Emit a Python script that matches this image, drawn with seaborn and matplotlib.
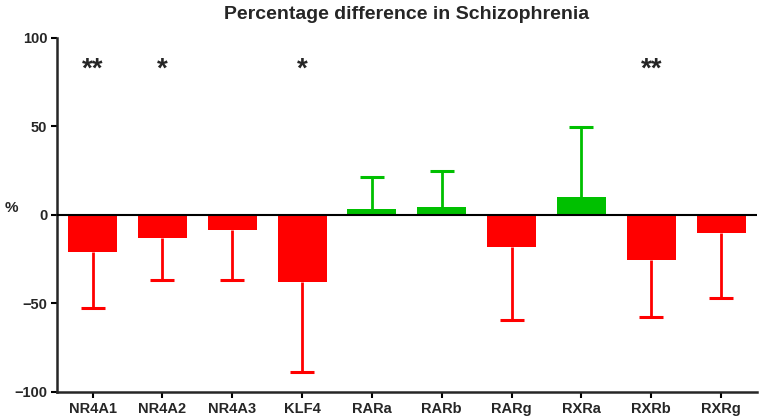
import matplotlib
matplotlib.use("Agg")
import matplotlib.pyplot as plt
import seaborn as sns
import pandas as pd
import numpy as np

genes = ["NR4A1", "NR4A2", "NR4A3", "KLF4", "RARa", "RARb", "RARg", "RXRa", "RXRb", "RXRg"]
values = [-21.0, -12.8, -8.3, -37.7, 3.2, 4.7, -18.3, 10.3, -25.6, -10.2]
errors = [31.4, 24.1, 28.6, 50.8, 18.4, 20.3, 41.0, 39.4, 32.2, 36.5]
stars = ["**", "*", "", "*", "", "", "", "", "**", ""]
yticks = [-100, -50, 0, 50, 100]

RED = "#FF0000"
GREEN = "#00C000"

sns.set_theme(style="ticks")
plt.rcParams["font.family"] = ["Liberation Sans", "DejaVu Sans"]

df = pd.DataFrame({"gene": genes, "value": values,
                   "dir": ["up" if v > 0 else "down" for v in values]})

fig = plt.figure(figsize=(7.59, 4.17), dpi=100)
ax = fig.add_axes([0.075, 0.06, 0.922, 0.849])

sns.barplot(data=df, x="gene", y="value", hue="dir", dodge=False,
            palette={"up": GREEN, "down": RED}, width=0.7,
            saturation=1, legend=False, ax=ax, zorder=2, linewidth=0)

pos = np.arange(len(genes))
for i, (v, e) in enumerate(zip(values, errors)):
    c = GREEN if v > 0 else RED
    end = v + e if v > 0 else v - e
    yerr = [[0], [e]] if v > 0 else [[e], [0]]
    ax.errorbar([pos[i]], [v], yerr=yerr, fmt="none", ecolor=c,
                elinewidth=2.0, capsize=0, zorder=1)
    ax.plot([pos[i]], [end], marker="_", markersize=17, mew=2.2, color=c,
            zorder=1)
    if stars[i]:
        ax.text(pos[i], 82, stars[i], ha="center", va="center",
                fontsize=20, fontweight="bold")

ax.axhline(0, color="black", lw=1.5, zorder=3)

ax.set_ylim(-100, 100)
ax.set_xlim(-0.51, 9.51)
ax.set_yticks(yticks)
ax.set_xlabel("")
ax.set_ylabel("%", rotation=0, fontsize=11, fontweight="bold", labelpad=8)
ax.yaxis.set_label_coords(-0.065, 0.5)
ax.set_title("Percentage difference in Schizophrenia", fontsize=14,
             fontweight="bold", pad=14)
for lab in ax.get_xticklabels() + ax.get_yticklabels():
    lab.set_fontweight("bold")
    lab.set_fontsize(10.5)
ax.tick_params(axis="both", width=1.5, length=4, color="black", pad=3)
sns.despine(ax=ax)
ax.spines["left"].set_linewidth(1.8)
ax.spines["bottom"].set_linewidth(1.8)

fig.savefig("out.png", dpi=100)
